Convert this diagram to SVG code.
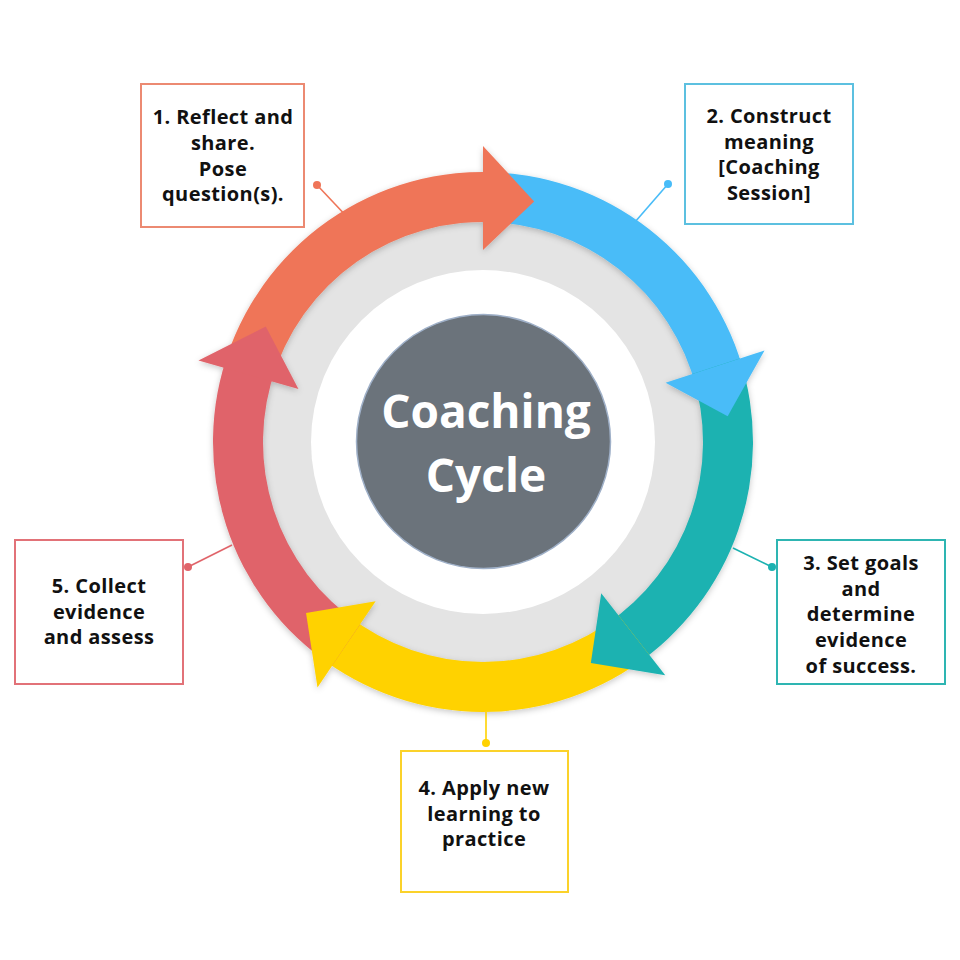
<svg xmlns="http://www.w3.org/2000/svg" width="960" height="960" viewBox="0 0 960 960">
<defs>
<filter id="sh" x="-20%" y="-20%" width="140%" height="140%">
<feDropShadow dx="0" dy="2" stdDeviation="3" flood-color="#000" flood-opacity="0.22"/>
</filter>
<style>
.lbl{font-family:"Open Sans","Liberation Sans",sans-serif;font-weight:700;font-size:20px;fill:#111;text-anchor:middle;letter-spacing:0.4px}
.ctr{font-family:"Open Sans","Liberation Sans",sans-serif;font-weight:700;font-size:46px;fill:#fff;text-anchor:middle}
.box{fill:#fff;stroke-width:2}
.ln{stroke-width:1.6;fill:none}
</style>
</defs>
<rect width="960" height="960" fill="#fff"/>
<g id="ring">
<circle cx="483" cy="442" r="228" fill="#e4e4e4"/>
<circle cx="483" cy="442" r="172" fill="#fff"/>
</g>
<g id="arrows" filter="url(#sh)">
<path fill="#ef7558" d="M 223.46 367.58 A 270 270 0 0 1 501.83 172.66 L 498.35 222.54 A 220 220 0 0 0 271.52 381.36 Z"/>
<path fill="#48bcf8" d="M 483 172 A 270 270 0 0 1 744.98 376.68 L 696.47 388.78 A 220 220 0 0 0 483 222 Z"/>
<path fill="#1cb2b1" d="M 739.79 358.56 A 270 270 0 0 1 633.98 665.84 L 606.02 624.39 A 220 220 0 0 0 692.23 374.02 Z"/>
<path fill="#ffd200" d="M 649.23 654.76 A 270 270 0 0 1 316.77 654.76 L 347.55 615.36 A 220 220 0 0 0 618.45 615.36 Z"/>
<path fill="#e0646a" d="M 332.02 665.84 A 270 270 0 0 1 229.28 349.65 L 276.27 366.76 A 220 220 0 0 0 359.98 624.39 Z"/>
<polygon fill="#ef7558" points="483,146 534.15,201.38 483,250"/>
<polygon fill="#48bcf8" points="764.51,350.53 727.65,416.29 665.60,382.67"/>
<polygon fill="#1cb2b1" points="665.24,675.25 590.84,663.10 601.21,593.30"/>
<polygon fill="#ffd200" points="317.48,687.40 306.04,612.89 375.64,601.18"/>
<polygon fill="#e0646a" points="198.47,360.41 265.79,326.51 298.44,389.08"/>
</g>
<g id="center">
<circle cx="483.5" cy="441.5" r="127" fill="#6b737b" stroke="#9fb0c8" stroke-width="1.5"/>
<text class="ctr" x="486" y="428">Coaching</text>
<text class="ctr" x="486" y="492">Cycle</text>
</g>
<g id="connectors">
<line class="ln" stroke="#ef7558" x1="350" y1="220" x2="317" y2="185"/>
<circle cx="317" cy="185" r="4" fill="#ef7558"/>
<line class="ln" stroke="#48bcf8" x1="635" y1="222" x2="668" y2="184"/>
<circle cx="668" cy="184" r="4" fill="#48bcf8"/>
<line class="ln" stroke="#1cb2b1" x1="733" y1="548" x2="772" y2="567"/>
<circle cx="772" cy="567" r="4" fill="#1cb2b1"/>
<line class="ln" stroke="#ffd200" x1="486" y1="712" x2="486" y2="743"/>
<circle cx="486" cy="743" r="4" fill="#ffd200"/>
<line class="ln" stroke="#e0646a" x1="232" y1="545" x2="188" y2="567"/>
<circle cx="188" cy="567" r="4" fill="#e0646a"/>
</g>
<g id="node1">
<rect class="box" stroke="#ec8a72" x="141" y="84" width="163" height="143"/>
<text class="lbl" x="223" y="124">1. Reflect and</text>
<text class="lbl" x="223" y="150">share.</text>
<text class="lbl" x="223" y="176">Pose</text>
<text class="lbl" x="223" y="201">question(s).</text>
</g>
<g id="node2">
<rect class="box" stroke="#5cc0e0" x="685" y="84" width="168" height="140"/>
<text class="lbl" x="769" y="123">2. Construct</text>
<text class="lbl" x="769" y="149">meaning</text>
<text class="lbl" x="769" y="174">[Coaching</text>
<text class="lbl" x="769" y="200">Session]</text>
</g>
<g id="node3">
<rect class="box" stroke="#2eb5b2" x="777" y="540" width="168" height="144"/>
<text class="lbl" x="861" y="570">3. Set goals</text>
<text class="lbl" x="861" y="596">and</text>
<text class="lbl" x="861" y="621">determine</text>
<text class="lbl" x="861" y="647">evidence</text>
<text class="lbl" x="861" y="673">of success.</text>
</g>
<g id="node4">
<rect class="box" stroke="#fbd22a" x="401" y="751" width="167" height="141"/>
<text class="lbl" x="484" y="795">4. Apply new</text>
<text class="lbl" x="484" y="821">learning to</text>
<text class="lbl" x="484" y="846">practice</text>
</g>
<g id="node5">
<rect class="box" stroke="#e27278" x="15" y="540" width="168" height="144"/>
<text class="lbl" x="99" y="593">5. Collect</text>
<text class="lbl" x="99" y="619">evidence</text>
<text class="lbl" x="99" y="644">and assess</text>
</g>
</svg>
